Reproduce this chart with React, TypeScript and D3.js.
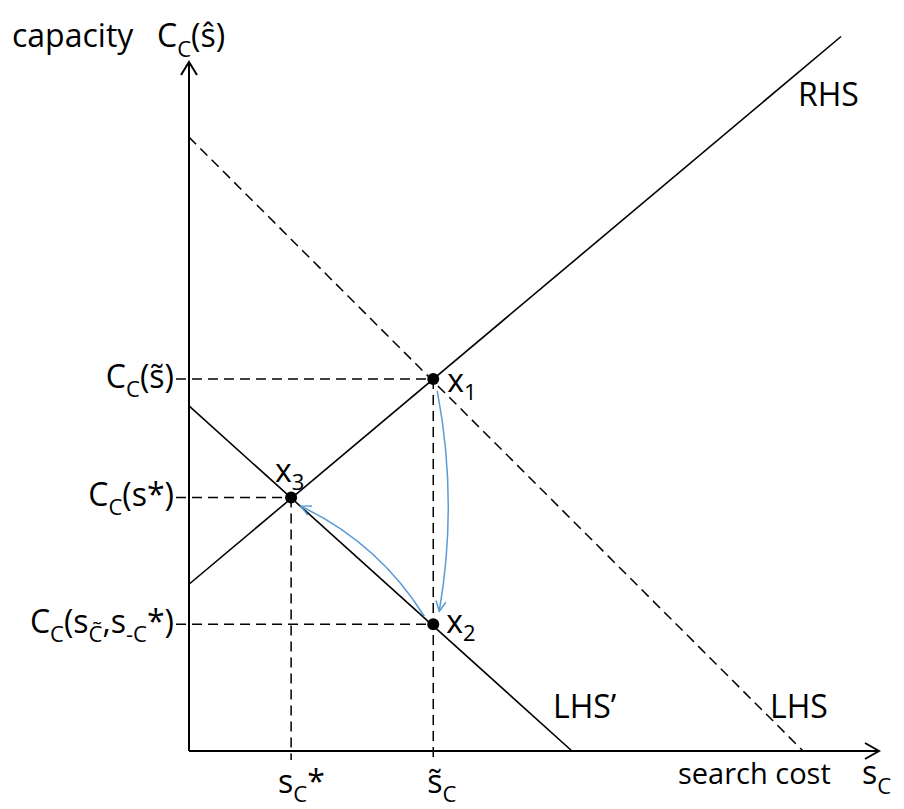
import * as d3 from 'd3';

// Equilibrium diagram: search cost vs capacity

// curves, as end points in data units
const rhsLine: [number, number][] = [[0, 2.42], [9.45, 10.37]];
const lhsLine: [number, number][] = [[0, 8.91], [8.9, 0]];
const lhsPrimeLine: [number, number][] = [[0, 5.01], [5.55, 0]];

// intersection points
const pointNames = ['x1', 'x2', 'x3'];
const pointX = [3.54, 3.54, 1.48];
const pointY = [5.4, 1.84, 3.68];

// blue adjustment arrows (from point -> to point)
const arrowFrom = ['x1', 'x2'];
const arrowTo = ['x2', 'x3'];

const W = 904;
const H = 809;
const FONT = '"Open Sans", "Noto Sans", sans-serif';
const BLUE = '#5b9bd5';

export default function App() {
  const x = d3.scaleLinear().domain([0, 10]).range([189, 879]);
  const y = d3.scaleLinear().domain([0, 10]).range([751, 62]);

  const line = d3
    .line<[number, number]>()
    .x((d) => x(d[0]))
    .y((d) => y(d[1]));

  const pts = pointNames.map((name, i) => ({ name, px: x(pointX[i]), py: y(pointY[i]) }));
  const byName = (n: string) => pts.find((p) => p.name === n)!;

  const x0 = x(0);
  const y0 = y(0);

  // curved arrows between points
  const bends = [-10, 12];
  const arrows = arrowFrom.map((f, i) => {
    const a = byName(f);
    const b = byName(arrowTo[i]);
    const dx = b.px - a.px;
    const dy = b.py - a.py;
    const len = Math.hypot(dx, dy);
    const ux = dx / len;
    const uy = dy / len;
    const sx = a.px + ux * 12 + (i === 0 ? 4 : 0);
    const sy = a.py + uy * 12;
    const ex = b.px - ux * 13 + (i === 0 ? 6 : 0);
    const ey = b.py - uy * 13;
    const mx = (sx + ex) / 2 - uy * bends[i] * 2;
    const my = (sy + ey) / 2 + ux * bends[i] * 2;
    const p = d3.path();
    p.moveTo(sx, sy);
    p.quadraticCurveTo(mx, my, ex, ey);
    return p.toString();
  });

  const dash = '10,6';
  const p1 = byName('x1');
  const p2 = byName('x2');
  const p3 = byName('x3');

  const sub = 22;

  return (
    <svg
      width={W}
      height={H}
      style={{ position: 'absolute', left: 0, top: 0, background: '#fff' }}
      fontFamily={FONT}
    >
      <defs>
        <marker
          id="blueHead"
          markerUnits="userSpaceOnUse"
          viewBox="-12 -7 14 14"
          markerWidth={14}
          markerHeight={14}
          refX={0}
          refY={0}
          orient="auto"
        >
          <path d="M-10,-5 L0,0 L-10,5" fill="none" stroke={BLUE} strokeWidth={1.5} />
        </marker>
      </defs>

      {/* guides */}
      <g stroke="#000" strokeWidth={1.5} strokeDasharray={dash} fill="none">
        <line x1={x0 - 13} y1={p1.py} x2={p1.px} y2={p1.py} />
        <line x1={x0 - 13} y1={p3.py} x2={p3.px} y2={p3.py} />
        <line x1={x0 - 13} y1={p2.py} x2={p2.px} y2={p2.py} />
        <line x1={p1.px} y1={p1.py} x2={p1.px} y2={y0 + 9} />
        <line x1={p3.px} y1={p3.py} x2={p3.px} y2={y0 + 9} />
        <path d={line(lhsLine) || ''} />
      </g>

      {/* solid curves */}
      <g stroke="#000" strokeWidth={1.6} fill="none">
        <path d={line(rhsLine) || ''} />
        <path d={line(lhsPrimeLine) || ''} />
      </g>

      {/* axes */}
      <g stroke="#000" strokeWidth={2} fill="none">
        <line x1={x0} y1={y0} x2={x0} y2={y(10)} />
        <line x1={x0} y1={y0} x2={x(10)} y2={y0} />
        <path d={`M${x0 - 8},${y(10) + 13} L${x0},${y(10)} L${x0 + 8},${y(10) + 13}`} />
        <path d={`M${x(10) - 14},${y0 - 8} L${x(10)},${y0} L${x(10) - 14},${y0 + 8}`} />
      </g>

      {/* arrows */}
      <g stroke={BLUE} strokeWidth={1.5} fill="none">
        {arrows.map((d, i) => (
          <path key={i} d={d} markerEnd="url(#blueHead)" />
        ))}
      </g>

      {/* points */}
      {pts.map((p) => (
        <circle key={p.name} cx={p.px} cy={p.py} r={6} fill="#000" />
      ))}

      <g fontSize={32} fill="#000">
        {/* point labels */}
        <text x={p1.px + 14} y={p1.py + 13}>
          x<tspan fontSize={sub} dy={8}>1</tspan>
        </text>
        <text x={p2.px + 13} y={p2.py + 9}>
          x<tspan fontSize={sub} dy={8}>2</tspan>
        </text>
        <text x={p3.px - 16} y={p3.py - 15}>
          x<tspan fontSize={sub} dy={8}>3</tspan>
        </text>

        {/* curve labels */}
        <text x={798} y={106}>RHS</text>
        <text x={553} y={718}>LHS’</text>
        <text x={770} y={718}>LHS</text>

        {/* y axis title */}
        <text x={12} y={47}>capacity</text>
        <text x={157} y={47}>
          C<tspan fontSize={sub} dy={10}>C</tspan>
          <tspan dy={-10}>(ŝ)</tspan>
        </text>

        {/* x axis title */}
        <text x={678} y={784} fontSize={29}>search cost</text>
        <text x={862} y={784}>
          s<tspan fontSize={sub} dy={10}>C</tspan>
        </text>

        {/* y tick labels */}
        <text x={x0 - 15} y={p1.py + 9} textAnchor="end">
          C<tspan fontSize={sub} dy={9}>C</tspan>
          <tspan dy={-9}>(s̃)</tspan>
        </text>
        <text x={x0 - 15} y={p3.py + 9} textAnchor="end">
          C<tspan fontSize={sub} dy={9}>C</tspan>
          <tspan dy={-9}>(s*)</tspan>
        </text>
        <text x={x0 - 15} y={p2.py + 9} textAnchor="end">
          C<tspan fontSize={sub} dy={9}>C</tspan>
          <tspan dy={-9}>(s</tspan>
          <tspan fontSize={sub} dy={9}>C̃</tspan>
          <tspan dy={-9}>,s</tspan>
          <tspan fontSize={sub} dy={9}>-C</tspan>
          <tspan dy={-9}>*)</tspan>
        </text>

        {/* x tick labels */}
        <text x={p3.px - 13} y={y0 + 42}>
          s<tspan fontSize={sub} dy={9}>C</tspan>
          <tspan dy={-9}>*</tspan>
        </text>
        <text x={p1.px - 6} y={y0 + 42}>
          s̃<tspan fontSize={sub} dy={9}>C</tspan>
        </text>
      </g>
    </svg>
  );
}
